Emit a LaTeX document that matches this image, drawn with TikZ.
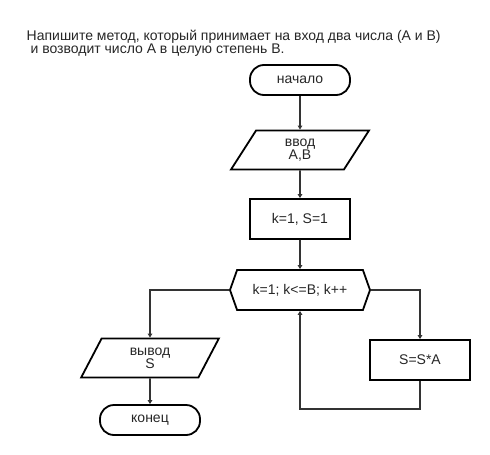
\documentclass[tikz,border=0pt]{standalone}
\usepackage{fontspec}
\setmainfont{Liberation Sans}
\usetikzlibrary{shapes.geometric,shapes.symbols,arrows.meta}

\begin{document}
\begin{tikzpicture}[x=1pt,y=-1pt,
    every node/.style={font=\fontsize{14}{13}\selectfont, text=black!85},
    terminal/.style={draw=black, line width=1.8pt, rounded corners=14pt, minimum width=100pt, minimum height=30pt},
    io/.style={draw=black, line width=1.8pt, trapezium, trapezium left angle=70, trapezium right angle=110,
        trapezium stretches=true, minimum width=138pt, minimum height=39pt, align=center},
    proc/.style={draw=black, line width=1.8pt, minimum width=100pt, minimum height=40pt},
    cycle/.style={draw=black, line width=1.8pt, signal, signal to=east and west, signal pointer angle=141,
        minimum width=140pt, minimum height=40pt},
    flow/.style={draw=black!80, line width=1.6pt, -{Triangle[length=4pt,width=4.5pt]}}]
        \useasboundingbox (0,0) rectangle (490,455);

        \node[anchor=base west, align=left, inner sep=0pt] (task) at (26.5,53.3)
            {Напишите метод, который принимает на вход два числа (A и B)\\\ и возводит число A в целую степень B.};

        \node[terminal] (start) at (300,80) {начало};
        \node[io] (in) at (300,150) {ввод\\A,B};
        \node[proc] (init) at (300,219) {k=1, S=1};
        \node[cycle] (loop) at (300,290) {k=1; k<=B; k++};
        \node[io] (out) at (150,358) {вывод\\S};
        \node[terminal] (stop) at (150,420) {конец};
        \node[proc] (mult) at (420,360) {S=S*A};
        \coordinate (back) at (300,409);

        \draw[flow] (start) -- (in);
        \draw[flow] (in) -- (init);
        \draw[flow] (init) -- (loop);
        \draw[flow] (loop.west) -| (out.north);
        \draw[flow] (out) -- (stop);
        \draw[flow] (loop.east) -| (mult.north);
        \draw[flow] (mult.south) |- (back) -- (loop.south);
    \end{tikzpicture}
\end{document}
